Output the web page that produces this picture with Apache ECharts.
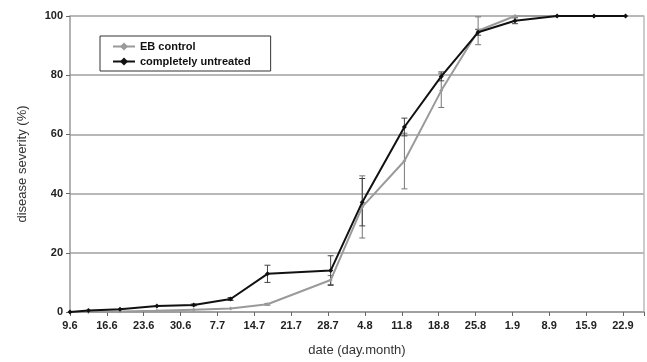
<!DOCTYPE html>
<html><head><meta charset="utf-8">
<script src="https://cdn.jsdelivr.net/npm/echarts@6/dist/echarts.min.js"></script>
<style>html,body{margin:0;padding:0;background:#fff}#c{width:647px;height:362px}</style>
</head><body><div id="c"></div>
<script>
// x positions in days after 9 June
const days = [0, 3.5, 9.5, 16.5, 23.5, 30.5, 37.5, 49.5, 55.5, 63.5, 70.5, 77.5, 84.5, 92.5, 99.5, 105.5];
const untreated = [0, 0.5, 0.9, 2.0, 2.4, 4.4, 12.9, 14.0, 37.1, 62.5, 79.6, 94.5, 98.4, 100, 100, 100];
const untreatedErr = [0, 0, 0, 0, 0.3, 0.5, 2.9, 5, 8, 3, 1.5, 1, 1, 0, 0, 0];
const ebControl = [0, 0, 0.2, 0.4, 0.8, 1.2, 2.6, 10.8, 35.5, 51.0, 74.8, 95.0, 100, 100, 100, 100];
const ebControlErr = [0, 0, 0, 0, 0, 0, 0.3, 1.5, 10.5, 9.4, 5.7, 4.7, 0, 0, 0, 0];
const tickLabels = ['9.6','16.6','23.6','30.6','7.7','14.7','21.7','28.7','4.8','11.8','18.8','25.8','1.9','8.9','15.9','22.9'];

const font = 'Liberation Sans, Arial, sans-serif';
const chart = echarts.init(document.getElementById('c'));

function errSeries(vals, errs, color) {
  return {
    type: 'custom', z: 1, silent: true,
    data: days.map((d, i) => [d, vals[i], errs[i]]),
    renderItem: function (params, api) {
      const x = api.value(0), v = api.value(1), e = api.value(2);
      if (!e) return null;
      const top = api.coord([x, v + e]);
      const bot = api.coord([x, v - e]);
      const w = 3;
      const st = { stroke: color, lineWidth: 1 };
      return { type: 'group', children: [
        { type: 'line', shape: { x1: top[0], y1: top[1], x2: bot[0], y2: bot[1] }, style: st },
        { type: 'line', shape: { x1: top[0] - w, y1: top[1], x2: top[0] + w, y2: top[1] }, style: st },
        { type: 'line', shape: { x1: bot[0] - w, y1: bot[1], x2: bot[0] + w, y2: bot[1] }, style: st }
      ]};
    }
  };
}

chart.setOption({
  animation: false,
  grid: { left: 70, right: 2, top: 16, bottom: 48 },
  legend: {
    left: 100, top: 36, orient: 'vertical', itemGap: 4, itemWidth: 22, itemHeight: 10,
    backgroundColor: '#fff', borderColor: '#333', borderWidth: 1,
    padding: [5, 20, 4, 12],
    textStyle: { fontFamily: font, fontWeight: 'bold', fontSize: 11, color: '#111' },
    data: ['EB control', 'completely untreated']
  },
  xAxis: {
    type: 'value', min: 0, max: 109, interval: 7,
    name: 'date (day.month)', nameLocation: 'middle', nameGap: 32,
    nameTextStyle: { fontFamily: font, fontSize: 13, color: '#333' },
    axisLine: { lineStyle: { color: '#999', width: 1.5 } },
    axisTick: { lineStyle: { color: '#666' }, length: 4 },
    splitLine: { show: false },
    axisLabel: { fontFamily: font, fontWeight: 'bold', fontSize: 11, color: '#222', margin: 8,
      formatter: v => (v % 7 === 0 && tickLabels[v / 7]) ? tickLabels[v / 7] : '' }
  },
  yAxis: [{
    type: 'value', min: 0, max: 100, interval: 20,
    name: 'disease severity (%)', nameLocation: 'middle', nameGap: 41,
    nameTextStyle: { fontFamily: font, fontSize: 13, color: '#333' },
    axisLine: { show: true, lineStyle: { color: '#999', width: 1.5 } },
    axisTick: { show: true, lineStyle: { color: '#666' }, length: 4 },
    splitLine: { lineStyle: { color: '#a0a0a0', width: 1.5 } },
    axisLabel: { fontFamily: font, fontWeight: 'bold', fontSize: 11, color: '#222', margin: 7 }
  }, {
    type: 'value', min: 0, max: 100, position: 'right',
    axisLine: { show: true, lineStyle: { color: '#bbb', width: 1.5 } },
    axisTick: { show: false }, axisLabel: { show: false }, splitLine: { show: false }
  }],
  series: [
    errSeries(ebControl, ebControlErr, '#777'),
    errSeries(untreated, untreatedErr, '#444'),
    {
      name: 'EB control', type: 'line', z: 2,
      data: days.map((d, i) => [d, ebControl[i]]),
      symbol: 'diamond', symbolSize: 4, showSymbol: true,
      lineStyle: { color: '#9a9a9a', width: 2 },
      itemStyle: { color: '#9a9a9a' }
    },
    {
      name: 'completely untreated', type: 'line', z: 3,
      data: days.map((d, i) => [d, untreated[i]]),
      symbol: 'diamond', symbolSize: 5, showSymbol: true,
      lineStyle: { color: '#111', width: 2 },
      itemStyle: { color: '#111' }
    }
  ]
});
</script></body></html>
